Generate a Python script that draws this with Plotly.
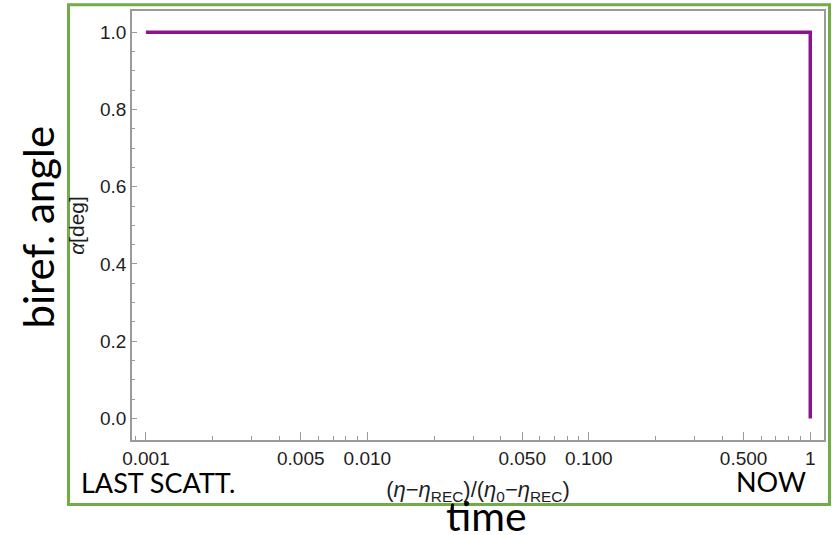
import plotly.graph_objects as go

# Birefringence angle versus normalised conformal time
time_x = [0.001, 1.0, 1.0]
angle_deg = [1.0, 1.0, 0.0]

x_major = [0.001, 0.005, 0.01, 0.05, 0.1, 0.5, 1]
x_major_text = ["0.001", "0.005", "0.010", "0.050", "0.100", "0.500", "1"]
x_minor = [0.0009, 0.002, 0.003, 0.004, 0.006, 0.007, 0.008, 0.009,
           0.02, 0.03, 0.04, 0.06, 0.07, 0.08, 0.09,
           0.2, 0.3, 0.4, 0.6, 0.7, 0.8, 0.9]
y_major = [0.0, 0.2, 0.4, 0.6, 0.8, 1.0]
y_major_text = ["0.0", "0.2", "0.4", "0.6", "0.8", "1.0"]
y_minor = [0.05, 0.1, 0.15, 0.25, 0.3, 0.35, 0.45, 0.5, 0.55,
           0.65, 0.7, 0.75, 0.85, 0.9, 0.95]

W, H = 832, 535
ML, MR, MT, MB = 132, 8, 11, 95
PW, PH = W - ML - MR, H - MT - MB


def px(x):
    return (x - ML) / PW


def py(y):
    return (H - MB - y) / PH


FRAME = "#9a9a9a"
SANS = "Liberation Sans, Arial, sans-serif"
TICKFONT = dict(family=SANS, size=19, color="#1e1e1e")
BIG = "Lato, sans-serif"

fig = go.Figure()
fig.add_trace(go.Scatter(
    x=time_x, y=angle_deg, mode="lines",
    line=dict(color="#8d1290", width=3.5),
    showlegend=False, hoverinfo="skip",
))

fig.update_xaxes(
    type="log", range=[-3.063, 0.062],
    tickmode="array", tickvals=x_major, ticktext=x_major_text,
    ticks="inside", ticklen=8, tickwidth=1, tickcolor=FRAME,
    minor=dict(tickmode="array", tickvals=x_minor, ticks="inside",
               ticklen=4, tickwidth=1, tickcolor=FRAME, showgrid=False),
    showline=True, linecolor=FRAME, linewidth=1.5, mirror=True,
    showgrid=False, zeroline=False, tickfont=TICKFONT,
    title=dict(
        text="(<i>η</i>−<i>η</i><sub>REC</sub>)/(<i>η</i><sub>0</sub>−<i>η</i><sub>REC</sub>)",
        font=dict(family=SANS, size=22, color="#1e1e1e"),
        standoff=14,
    ),
)
fig.update_yaxes(
    range=[-0.056, 1.055],
    tickmode="array", tickvals=y_major, ticktext=y_major_text,
    ticks="inside", ticklen=5, tickwidth=1, tickcolor=FRAME,
    minor=dict(tickmode="array", tickvals=y_minor, ticks="inside",
               ticklen=3, tickwidth=1, tickcolor=FRAME, showgrid=False),
    showline=True, linecolor=FRAME, linewidth=1.5, mirror=True,
    showgrid=False, zeroline=False, tickfont=TICKFONT,
    title=dict(
        text="<i>α</i>[deg]",
        font=dict(family=SANS, size=21, color="#1e1e1e"),
        standoff=10,
    ),
)

# Green outline box around the panel
fig.add_shape(
    type="rect", xref="paper", yref="paper",
    x0=px(68.5), x1=px(829.5), y0=py(504.5), y1=py(4.7),
    line=dict(color="#70ad47", width=3), fillcolor="rgba(0,0,0,0)",
    layer="above",
)

fig.add_annotation(
    text="biref. angle", xref="paper", yref="paper",
    x=px(37), y=py(227.5), xanchor="center", yanchor="middle",
    textangle=-90, showarrow=False,
    font=dict(family=BIG, size=42, color="#000000"),
)
fig.add_annotation(
    text="time", xref="paper", yref="paper",
    x=px(486), y=py(515), xanchor="center", yanchor="middle",
    showarrow=False, font=dict(family=BIG, size=41, color="#000000"),
)
fig.add_annotation(
    text="LAST SCATT.", xref="paper", yref="paper",
    x=px(79), y=py(482), xanchor="left", yanchor="middle",
    showarrow=False, font=dict(family=BIG, size=27, color="#000000"),
)
fig.add_annotation(
    text="NOW", xref="paper", yref="paper",
    x=px(808), y=py(481), xanchor="right", yanchor="middle",
    showarrow=False, font=dict(family=BIG, size=27, color="#000000"),
)

fig.update_layout(
    width=W, height=H,
    margin=dict(l=ML, r=MR, t=MT, b=MB, autoexpand=False),
    paper_bgcolor="white", plot_bgcolor="white",
)

fig.write_html("out.html")
